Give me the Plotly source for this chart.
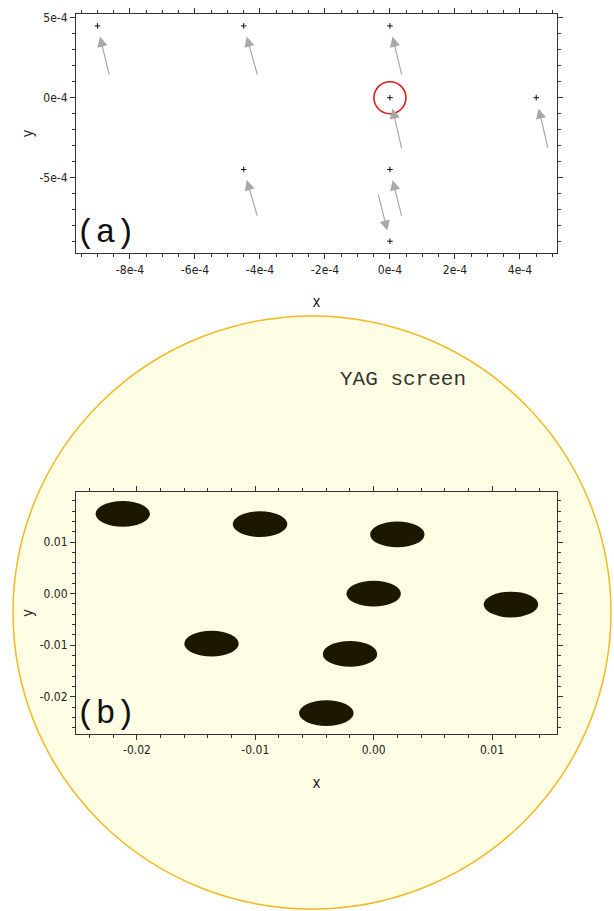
import plotly.graph_objects as go

# (a) beamlet positions at the source
pts_x = [-9e-4, -4.5e-4, 0.0, 0.0, 4.5e-4, -4.5e-4, 0.0, 0.0]
pts_y = [4.5e-4, 4.5e-4, 4.5e-4, 0.0, 0.0, -4.5e-4, -4.5e-4, -9e-4]
# arrow tail offsets (pixels) relative to each point
arrow_ax = [12, 14, 12, 12, 12, 14, 12, -12]
arrow_ay = [50, 50, 50, 52, 52, 48, 48, -48]

a_xticks = [-8e-4, -6e-4, -4e-4, -2e-4, 0.0, 2e-4, 4e-4]
a_xlabels = ["-8e-4", "-6e-4", "-4e-4", "-2e-4", "0e-4", "2e-4", "4e-4"]
a_yticks = [5e-4, 0.0, -5e-4]
a_ylabels = ["5e-4", "0e-4", "-5e-4"]

# (b) spots on the YAG screen
spot_x = [-0.0212, -0.0096, 0.0020, 0.0000, 0.0116, -0.0137, -0.0020, -0.0040]
spot_y = [0.0155, 0.0135, 0.0115, 0.0000, -0.0021, -0.0097, -0.0117, -0.0232]
spot_rx = 0.0023
spot_ry = 0.0025

b_xticks = [-0.02, -0.01, 0.0, 0.01]
b_xlabels = ["-0.02", "-0.01", "0.00", "0.01"]
b_yticks = [0.01, 0.0, -0.01, -0.02]
b_ylabels = ["0.01", "0.00", "-0.01", "-0.02"]

W, H = 614, 911
narrow = "Liberation Sans Narrow, Arial Narrow, DejaVu Sans Condensed, sans-serif"
tickfont = dict(family=narrow, size=12, color="#222")
monofont = "Liberation Mono, Courier New, monospace"


def axis_style(dom, rng, tv, tt, minor_dtick, title, standoff, anchor):
    return dict(domain=dom, range=rng, tickmode="array", tickvals=tv, ticktext=tt,
                showline=True, linecolor="#333", linewidth=1, mirror="allticks",
                ticks="outside", ticklen=5, tickcolor="#333", tickwidth=1,
                minor=dict(ticks="outside", ticklen=3, tickcolor="#333", dtick=minor_dtick, tick0=0, showgrid=False),
                showgrid=False, zeroline=False, tickfont=tickfont, anchor=anchor,
                title=dict(text=title, font=dict(family=narrow, size=15, color="#222"), standoff=standoff))


fig = go.Figure()
fig.add_trace(go.Scatter(x=pts_x, y=pts_y, mode="markers", xaxis="x", yaxis="y",
                         marker=dict(symbol="cross-thin", size=4, line=dict(width=1, color="#111")),
                         showlegend=False))
fig.add_trace(go.Scatter(x=spot_x, y=spot_y, mode="markers", xaxis="x2", yaxis="y2",
                         marker=dict(size=1, opacity=0), showlegend=False, hoverinfo="x+y"))

xd = [76 / W, 557 / W]
fig.update_layout(
    width=W, height=H, margin=dict(l=0, r=0, t=0, b=0),
    paper_bgcolor="white", plot_bgcolor="rgba(0,0,0,0)",
    xaxis=axis_style(xd, [-9.66e-4, 5.14e-4], a_xticks, a_xlabels, 0.5e-4, "x", 20, "y"),
    yaxis=axis_style([1 - 251 / H, 1 - 11 / H], [-9.75e-4, 5.25e-4], a_yticks, a_ylabels, 1e-4, "y", 2, "x"),
    xaxis2=axis_style(xd, [-0.02515, 0.01549], b_xticks, b_xlabels, 0.002, "x", 21, "y2"),
    yaxis2=axis_style([1 - 733 / H, 1 - 491 / H], [-0.02716, 0.01967], b_yticks, b_ylabels, 0.002, "y", 2, "x2"),
)

shapes = [
    # YAG screen disc
    dict(type="circle", xref="paper", yref="paper", layer="below",
         x0=13 / W, x1=611 / W, y0=1 - 909 / H, y1=1 - 314 / H,
         fillcolor="#fefee4", line=dict(color="#f4b820", width=1.5)),
    # red ring around the central beamlet
    dict(type="circle", xref="x", yref="y", xsizemode="pixel", ysizemode="pixel",
         xanchor=0.0, yanchor=0.0, x0=-16, x1=16, y0=-16, y1=16,
         line=dict(color="#e01818", width=1.6)),
]
for cx, cy in zip(spot_x, spot_y):
    shapes.append(dict(type="circle", xref="x2", yref="y2",
                       x0=cx - spot_rx, x1=cx + spot_rx, y0=cy - spot_ry, y1=cy + spot_ry,
                       fillcolor="#1c1800", line=dict(width=0)))
fig.update_layout(shapes=shapes)

for px, py, ax, ay in zip(pts_x, pts_y, arrow_ax, arrow_ay):
    fig.add_annotation(x=px, y=py, xref="x", yref="y", text="", showarrow=True,
                       ax=ax, ay=ay, standoff=11, arrowhead=2, arrowsize=1.7,
                       arrowwidth=1.2, arrowcolor="#a8a8a8")

fig.add_annotation(text="(a)", xref="paper", yref="paper", x=74 / W, y=1 - 252 / H,
                   xanchor="left", yanchor="bottom", showarrow=False,
                   font=dict(family=monofont, size=33, color="#111"))
fig.add_annotation(text="(b)", xref="paper", yref="paper", x=74 / W, y=1 - 734 / H,
                   xanchor="left", yanchor="bottom", showarrow=False,
                   font=dict(family=monofont, size=33, color="#111"))
fig.add_annotation(text="YAG screen", xref="paper", yref="paper", x=338 / W, y=1 - 378 / H,
                   xanchor="left", yanchor="middle", showarrow=False,
                   font=dict(family=monofont, size=21, color="#333"))

# drop the default page margin so the 614x911 figure fills the window exactly
fig.write_html("out.html", config={"displayModeBar": False},
               post_script="document.body.style.margin='0';document.body.style.overflow='hidden';")
